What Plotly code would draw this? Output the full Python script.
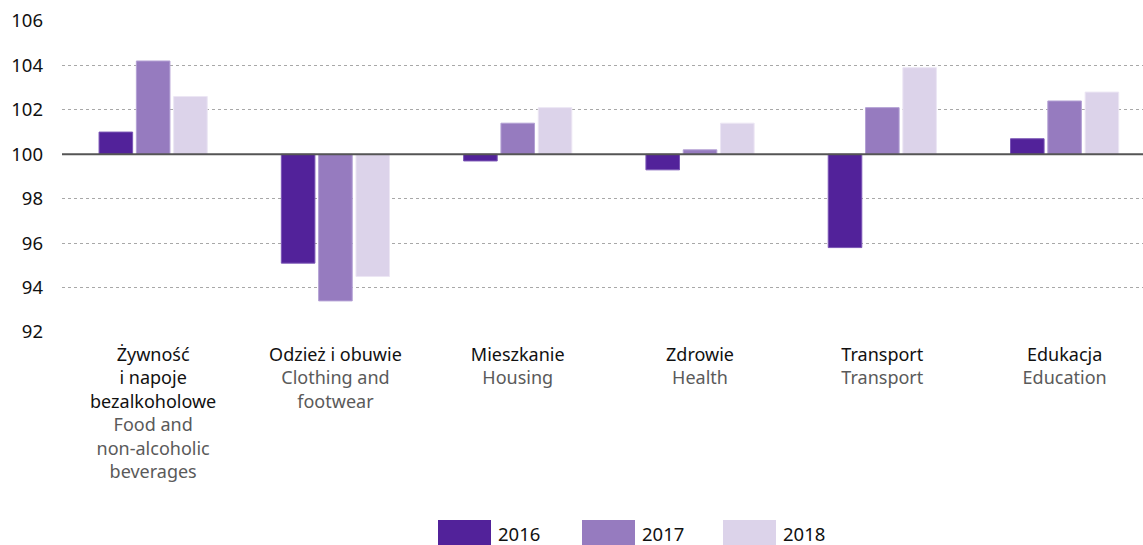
import plotly.graph_objects as go

categories_pl = ["Żywność<br>i napoje<br>bezalkoholowe", "Odzież i obuwie", "Mieszkanie", "Zdrowie", "Transport", "Edukacja"]
categories_en = ["Food and<br>non-alcoholic<br>beverages", "Clothing and<br>footwear", "Housing", "Health", "Transport", "Education"]
years = ["2016", "2017", "2018"]
v2016 = [101.0, 95.1, 99.7, 99.3, 95.8, 100.7]
v2017 = [104.2, 93.4, 101.4, 100.2, 102.1, 102.4]
v2018 = [102.6, 94.5, 102.1, 101.4, 103.9, 102.8]
y_ticks = [92, 94, 96, 98, 100, 102, 104, 106]

colors = ["#52229a", "#967bbf", "#dcd3ea"]
outlines = ["#7a55b5", "#b3a0d4", "#ece6f4"]
base_value = 100

FONT = "Noto Sans, Open Sans, sans-serif"
x = list(range(len(categories_pl)))
ticktext = []
for pl, en in zip(categories_pl, categories_en):
    en_lines = en.split("<br>")
    en_html = "<br>".join(f"<span style='color:#5a5a5a'>{l}</span>" for l in en_lines)
    ticktext.append(f"{pl}<br>{en_html}")

fig = go.Figure()
for yr, vals, c, oc in zip(years, [v2016, v2017, v2018], colors, outlines):
    fig.add_trace(go.Bar(
        x=x, y=[v - base_value for v in vals], base=base_value, name=yr,
        marker=dict(color=c, line=dict(color=oc, width=1)),
        hovertemplate="%{customdata}<extra>" + yr + "</extra>",
        customdata=vals,
    ))

# custom legend (large swatches) in paper coordinates
W, H = 1143, 545
L, R, T, B = 62, 0, 21, 213
pw, ph = W - L - R, H - T - B
def px_x(p):
    return (p - L) / pw
def px_y(p):
    return (H - B - p) / ph

legend_x = [438, 582, 723]
shapes = [dict(type="line", xref="paper", x0=0, x1=1, yref="y", y0=base_value, y1=base_value,
               line=dict(color="#555", width=2))]
annotations = []
for lx, yr, c in zip(legend_x, years, colors):
    shapes.append(dict(type="rect", xref="paper", yref="paper",
                       x0=px_x(lx), x1=px_x(lx + 53), y0=px_y(545), y1=px_y(520),
                       fillcolor=c, line=dict(width=0)))
    annotations.append(dict(xref="paper", yref="paper", x=px_x(lx + 58), y=px_y(533),
                            text=yr, showarrow=False, xanchor="left", yanchor="middle",
                            font=dict(family=FONT, size=18.5, color="#111")))

fig.update_layout(
    width=W, height=H,
    margin=dict(l=L, r=R, t=T, b=B),
    paper_bgcolor="white", plot_bgcolor="white",
    barmode="group", bargap=0.386, bargroupgap=0.1,
    font=dict(family=FONT, size=18, color="#111"),
    showlegend=False,
    xaxis=dict(tickmode="array", tickvals=x, ticktext=ticktext, range=[-0.5, 5.43],
               showgrid=False, zeroline=False, showline=False, ticks="",
               ticklabelstandoff=10,
               tickfont=dict(size=18, color="#111"), automargin=False),
    yaxis=dict(range=[92, 106], tickvals=y_ticks, showgrid=True, gridcolor="#a8a8a8",
               griddash="dot", gridwidth=1, zeroline=False, showline=False, ticks="",
               ticklabelstandoff=18, tickfont=dict(size=18.5, color="#111"), automargin=False),
    shapes=shapes,
    annotations=annotations,
)

fig.write_html("out.html", config={"displayModeBar": False},
               post_script="document.body.style.margin='0';document.body.style.overflow='hidden';")
